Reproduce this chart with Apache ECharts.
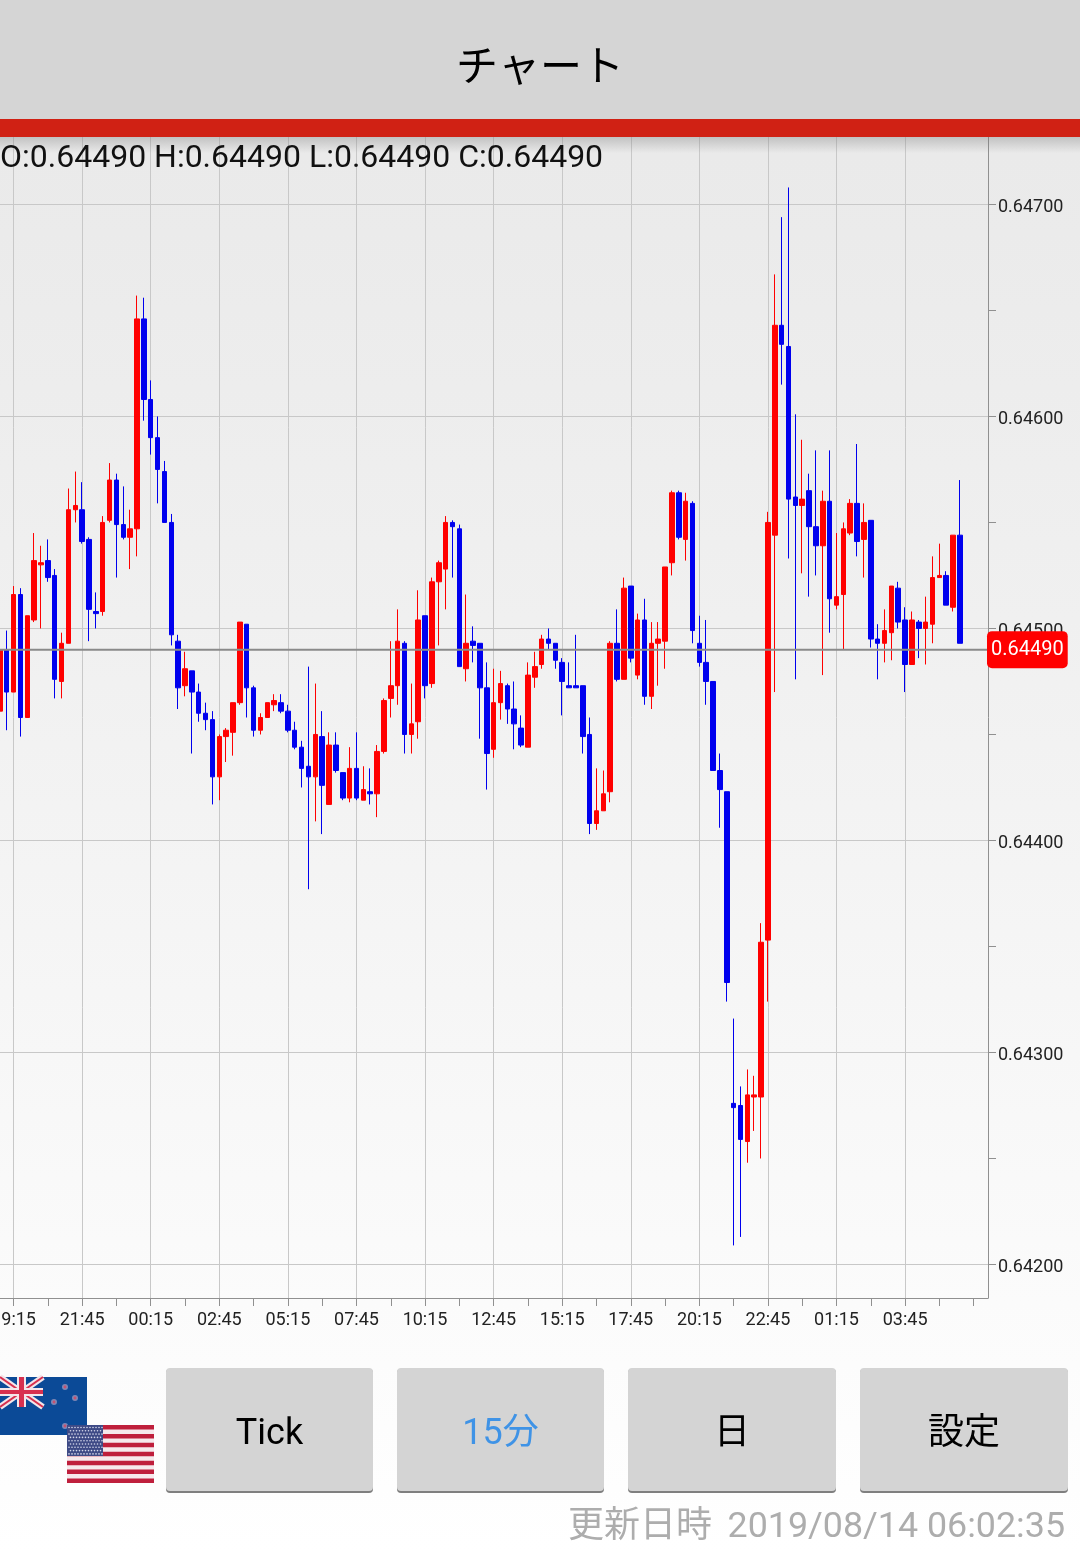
<!DOCTYPE html>
<html><head><meta charset="utf-8">
<style>html,body{margin:0;padding:0;background:#fff}#c{width:1080px;height:1551px}</style>
<script src="https://cdn.jsdelivr.net/npm/echarts@6/dist/echarts.min.js"></script>
</head><body><div id="c"></div>
<script>
const opens=[0.64461,0.64490,0.64470,0.64516,0.64458,0.64504,0.64530,0.64532,0.64525,0.64475,
0.64493,0.64556,0.64556,0.64542,0.64508,0.64508,0.64551,0.64570,0.64549,0.64543,
0.64547,0.64646,0.64608,0.64590,0.64574,0.64550,0.64494,0.64473,0.64480,0.64470,
0.64460,0.64457,0.64430,0.64449,0.64451,0.64465,0.64502,0.64472,0.64452,0.64458,
0.64464,0.64465,0.64461,0.64452,0.64444,0.64435,0.64430,0.64449,0.64417,0.64445,
0.64432,0.64420,0.64434,0.64419,0.64423,0.64422,0.64442,0.64467,0.64473,0.64493,
0.64450,0.64456,0.64506,0.64474,0.64522,0.64528,0.64550,0.64547,0.64481,0.64494,
0.64493,0.64472,0.64443,0.64465,0.64473,0.64462,0.64453,0.64444,0.64477,0.64483,
0.64495,0.64493,0.64484,0.64473,0.64473,0.64473,0.64450,0.64408,0.64414,0.64423,
0.64493,0.64476,0.64520,0.64478,0.64504,0.64468,0.64493,0.64494,0.64531,0.64564,
0.64542,0.64559,0.64493,0.64484,0.64475,0.64433,0.64423,0.64276,0.64275,0.64258,
0.64279,0.64279,0.64353,0.64544,0.64643,0.64633,0.64562,0.64558,0.64565,0.64548,
0.64539,0.64560,0.64511,0.64516,0.64545,0.64559,0.64542,0.64551,0.64495,0.64493,
0.64498,0.64519,0.64504,0.64483,0.64503,0.64500,0.64502,0.64524,0.64525,0.64510,0.64544];
const closes=[0.64490,0.64470,0.64516,0.64458,0.64506,0.64532,0.64531,0.64524,0.64476,0.64493,
0.64556,0.64558,0.64541,0.64509,0.64507,0.64550,0.64570,0.64549,0.64543,0.64547,
0.64646,0.64608,0.64590,0.64575,0.64550,0.64497,0.64472,0.64481,0.64470,0.64460,
0.64457,0.64430,0.64449,0.64452,0.64465,0.64503,0.64472,0.64452,0.64458,0.64465,
0.64466,0.64461,0.64452,0.64444,0.64434,0.64430,0.64450,0.64426,0.64445,0.64433,
0.64420,0.64434,0.64420,0.64424,0.64422,0.64442,0.64466,0.64473,0.64494,0.64450,
0.64455,0.64504,0.64473,0.64522,0.64531,0.64550,0.64548,0.64482,0.64493,0.64492,
0.64472,0.64441,0.64465,0.64474,0.64462,0.64455,0.64445,0.64478,0.64482,0.64495,
0.64493,0.64485,0.64475,0.64472,0.64472,0.64449,0.64408,0.64414,0.64422,0.64493,
0.64476,0.64519,0.64486,0.64504,0.64468,0.64493,0.64495,0.64529,0.64564,0.64543,
0.64560,0.64499,0.64484,0.64475,0.64433,0.64424,0.64333,0.64274,0.64259,0.64280,
0.64280,0.64352,0.64550,0.64643,0.64634,0.64561,0.64558,0.64561,0.64548,0.64539,
0.64560,0.64514,0.64515,0.64547,0.64559,0.64541,0.64550,0.64495,0.64493,0.64499,
0.64520,0.64503,0.64483,0.64504,0.64500,0.64503,0.64524,0.64525,0.64511,0.64544,0.64493];
const lows=[0.64461,0.64452,0.64470,0.64449,0.64458,0.64503,0.64500,0.64522,0.64467,0.64467,
0.64493,0.64550,0.64540,0.64494,0.64500,0.64506,0.64550,0.64524,0.64542,0.64528,
0.64534,0.64598,0.64582,0.64559,0.64550,0.64492,0.64462,0.64468,0.64441,0.64456,
0.64452,0.64417,0.64419,0.64437,0.64440,0.64464,0.64458,0.64449,0.64450,0.64458,
0.64461,0.64460,0.64451,0.64443,0.64425,0.64377,0.64409,0.64403,0.64417,0.64432,
0.64419,0.64418,0.64419,0.64419,0.64417,0.64411,0.64441,0.64458,0.64464,0.64441,
0.64441,0.64448,0.64467,0.64472,0.64492,0.64509,0.64524,0.64482,0.64475,0.64484,
0.64448,0.64424,0.64439,0.64457,0.64455,0.64443,0.64444,0.64444,0.64472,0.64481,
0.64490,0.64481,0.64459,0.64472,0.64472,0.64441,0.64403,0.64405,0.64414,0.64418,
0.64475,0.64476,0.64484,0.64476,0.64464,0.64462,0.64473,0.64481,0.64525,0.64542,
0.64532,0.64493,0.64482,0.64464,0.64433,0.64406,0.64324,0.64209,0.64213,0.64248,
0.64263,0.64250,0.64324,0.64470,0.64615,0.64533,0.64476,0.64526,0.64515,0.64525,
0.64478,0.64498,0.64509,0.64490,0.64544,0.64534,0.64524,0.64491,0.64476,0.64484,
0.64485,0.64500,0.64470,0.64483,0.64486,0.64483,0.64493,0.64524,0.64511,0.64508,0.64493];
const highs=[0.64494,0.64499,0.64520,0.64519,0.64506,0.64545,0.64539,0.64542,0.64528,0.64498,
0.64566,0.64574,0.64569,0.64543,0.64517,0.64553,0.64578,0.64573,0.64567,0.64556,
0.64657,0.64656,0.64617,0.64600,0.64579,0.64554,0.64497,0.64489,0.64480,0.64474,
0.64465,0.64461,0.64450,0.64453,0.64465,0.64503,0.64502,0.64473,0.64460,0.64465,
0.64469,0.64469,0.64464,0.64456,0.64447,0.64482,0.64474,0.64461,0.64451,0.64451,
0.64432,0.64444,0.64451,0.64435,0.64434,0.64445,0.64467,0.64494,0.64509,0.64494,
0.64474,0.64518,0.64506,0.64524,0.64532,0.64553,0.64551,0.64549,0.64516,0.64501,
0.64493,0.64484,0.64481,0.64480,0.64474,0.64475,0.64459,0.64484,0.64489,0.64497,
0.64500,0.64493,0.64486,0.64484,0.64497,0.64473,0.64458,0.64434,0.64433,0.64494,
0.64509,0.64524,0.64520,0.64507,0.64514,0.64503,0.64503,0.64529,0.64565,0.64565,
0.64564,0.64560,0.64506,0.64504,0.64475,0.64441,0.64423,0.64316,0.64284,0.64292,
0.64289,0.64361,0.64555,0.64667,0.64694,0.64708,0.64601,0.64589,0.64573,0.64584,
0.64565,0.64584,0.64545,0.64550,0.64561,0.64587,0.64559,0.64551,0.64502,0.64509,
0.64520,0.64522,0.64510,0.64508,0.64504,0.64515,0.64534,0.64540,0.64527,0.64544,0.64570];
const timeLabels=['19:15','21:45','00:15','02:45','05:15','07:45','10:15','12:45','15:15','17:45','20:15','22:45','01:15','03:45'];
const priceTicks=[0.642,0.643,0.644,0.645,0.646,0.647];
const halfPriceTicks=[0.6425,0.6435,0.6445,0.6455,0.6465];
const timeTicks=[0,10,20,30,40,50,60,70,80,90,100,110,120,130];
const halfTimeTicks=[5,15,25,35,45,55,65,75,85,95,105,115,125,135,140];
const lastPrice=0.6449;
const ohlcText='O:0.64490 H:0.64490 L:0.64490 C:0.64490';
const updatedLabel='更新日時';
const updatedTime='2019/08/14 06:02:35';
const buttons=[['Tick','#000000'],['15分','#3f93e6'],['日','#000000'],['設定','#000000']];

const font='Roboto, "Noto Sans CJK JP", sans-serif';
const xMin=-1.98,xMax=142.09,yMin=0.641842,yMax=0.647318;
const candles=opens.map((o,i)=>[i-2,o,closes[i],lows[i],highs[i]]);
const g=[];
// header
g.push({type:'rect',shape:{x:0,y:0,width:1080,height:119},style:{fill:'#d5d5d5'},z:5});
g.push({type:'rect',shape:{x:0,y:119,width:1080,height:18},style:{fill:'#d02114'},z:5});
g.push({type:'rect',shape:{x:0,y:137,width:1080,height:16},style:{fill:{type:'linear',x:0,y:0,x2:0,y2:1,colorStops:[{offset:0,color:'rgba(120,120,120,0.35)'},{offset:1,color:'rgba(120,120,120,0)'}]}},z:5});
g.push({type:'text',x:540,y:65,style:{text:'チャート',fontSize:42,fontFamily:'"Noto Sans CJK JP"',fill:'#000',align:'center',verticalAlign:'middle'},z:6});
g.push({type:'text',x:0,y:159,style:{text:ohlcText,fontSize:32,fontFamily:'Roboto',fill:'#111',align:'left',verticalAlign:'middle'},z:6});
// buttons
const bx=[[166,373],[397,604],[628,836],[860,1068]];
buttons.forEach((b,i)=>{
  const [l,r]=bx[i];
  g.push({type:'rect',shape:{x:l,y:1369,width:r-l,height:124,r:4},style:{fill:'#7f7f7f'},z:4});
  g.push({type:'rect',shape:{x:l,y:1368,width:r-l,height:123,r:4},style:{fill:'#d4d4d4'},z:5});
  g.push({type:'text',x:(l+r)/2,y:1435,style:{text:b[0],fontSize:36,fontFamily:font,fill:b[1],align:'center',verticalAlign:'middle'},z:6});
});
g.push({type:'text',x:712,y:1528,style:{text:updatedLabel,fontSize:36,fontFamily:font,fill:'#adadad',align:'right',verticalAlign:'middle'},z:6});
g.push({type:'text',x:1065,y:1528,style:{text:updatedTime,fontSize:35.8,fontFamily:font,fill:'#adadad',align:'right',verticalAlign:'middle'},z:6});
// NZ flag
const nzBlue='#0b4a97';
g.push({type:'rect',shape:{x:0,y:1377,width:87,height:58},style:{fill:nzBlue},z:5});
[[0,1377,43,1407],[43,1377,0,1407]].forEach(s=>{
  g.push({type:'line',shape:{x1:s[0],y1:s[1],x2:s[2],y2:s[3]},style:{stroke:'#f3e6ea',lineWidth:6},z:5});
  g.push({type:'line',shape:{x1:s[0],y1:s[1],x2:s[2],y2:s[3]},style:{stroke:'#d8304f',lineWidth:2},z:5});
});
g.push({type:'rect',shape:{x:0,y:1388,width:43,height:8},style:{fill:'#f3e6ea'},z:5});
g.push({type:'rect',shape:{x:17,y:1377,width:9,height:30},style:{fill:'#f3e6ea'},z:5});
g.push({type:'rect',shape:{x:0,y:1390,width:43,height:4},style:{fill:'#d8304f'},z:5});
g.push({type:'rect',shape:{x:19,y:1377,width:5,height:30},style:{fill:'#d8304f'},z:5});
[[65,1387],[75,1398],[54,1402],[65,1426]].forEach(p=>{
  g.push({type:'circle',shape:{cx:p[0],cy:p[1],r:3},style:{fill:'#7f86b4'},z:5});
  g.push({type:'circle',shape:{cx:p[0],cy:p[1],r:1.4},style:{fill:'#c8506e'},z:5});
});
// US flag
g.push({type:'rect',shape:{x:67,y:1425,width:87,height:58},style:{fill:'#f6e9ec'},z:5});
for(let i=0;i<13;i+=2){g.push({type:'rect',shape:{x:67,y:1425+i*58/13,width:87,height:58/13},style:{fill:'#bf1f3c'},z:5});}
g.push({type:'rect',shape:{x:67,y:1425,width:36,height:31},style:{fill:'#3e4a86'},z:5});
for(let r=0;r<9;r++)for(let c=0;c<(r%2?11:12);c++){g.push({type:'circle',shape:{cx:69+c*3+(r%2?1.5:0),cy:1427.5+r*3.3,r:0.8},style:{fill:'#d5d8ea'},z:5});}

const chart=echarts.init(document.getElementById('c'),null,{renderer:'canvas',width:1080,height:1551});
chart.setOption({
  animation:false,
  backgroundColor:{type:'linear',x:0,y:0,x2:0,y2:1,colorStops:[{offset:0,color:'#e8e8e8'},{offset:0.2,color:'#ececec'},{offset:0.4,color:'#f0f0f0'},{offset:0.8,color:'#fafafa'},{offset:0.92,color:'#fdfdfd'},{offset:1,color:'#ffffff'}]},
  grid:{left:0,right:92,top:137,bottom:253,containLabel:false,outerBoundsMode:'none'},
  xAxis:[{
    type:'value',min:xMin,max:xMax,position:'bottom',
    axisLine:{show:true,onZero:false,lineStyle:{color:'#909090',width:1}},
    axisTick:{show:true,length:8,customValues:timeTicks,lineStyle:{color:'#909090'}},
    axisLabel:{show:true,customValues:timeTicks,hideOverlap:false,margin:13,fontSize:18,fontFamily:'Roboto',color:'#222',formatter:v=>timeLabels[Math.round(v/10)]||''},
    splitLine:{show:true,lineStyle:{color:'#c8c8c8',width:1}}
  },{
    type:'value',min:xMin,max:xMax,position:'bottom',
    axisLine:{show:false,onZero:false},
    axisTick:{show:true,length:8,customValues:halfTimeTicks,lineStyle:{color:'#909090'}},
    axisLabel:{show:false},splitLine:{show:false}
  }],
  yAxis:[{
    type:'value',min:yMin,max:yMax,position:'right',scale:true,
    axisLine:{show:true,onZero:false,lineStyle:{color:'#909090',width:1}},
    axisTick:{show:true,length:8,customValues:priceTicks,lineStyle:{color:'#909090'}},
    axisLabel:{show:true,customValues:priceTicks,margin:10,verticalAlign:'top',lineHeight:6,fontSize:18,fontFamily:'Roboto',color:'#222',formatter:v=>v.toFixed(5)},
    splitLine:{show:true,lineStyle:{color:'#c8c8c8',width:1}}
  },{
    type:'value',min:yMin,max:yMax,position:'right',scale:true,
    axisLine:{show:false,onZero:false},
    axisTick:{show:true,length:8,customValues:halfPriceTicks,lineStyle:{color:'#909090'}},
    axisLabel:{show:false},splitLine:{show:false}
  }],
  graphic:{elements:g},
  series:[{
    type:'candlestick',xAxisIndex:0,yAxisIndex:0,
    encode:{x:0,y:[1,2,3,4]},
    data:candles,barWidth:5,clip:true,
    itemStyle:{color:'#ff0000',color0:'#0000ee',borderColor:'#ff0000',borderColor0:'#0000ee',borderWidth:1}
  },{
    type:'line',xAxisIndex:0,yAxisIndex:0,z:4,silent:true,showSymbol:false,symbol:'none',
    data:[[xMin,lastPrice],[xMax,lastPrice]],
    lineStyle:{color:'#8a8a8a',width:2,type:'solid'},
    endLabel:{show:true,distance:-1,formatter:()=>lastPrice.toFixed(5),color:'#fff',fontSize:20,fontFamily:'Roboto',backgroundColor:'#ff0000',borderRadius:5,padding:[10,4,7,4]}
  }]
});
</script></body></html>
